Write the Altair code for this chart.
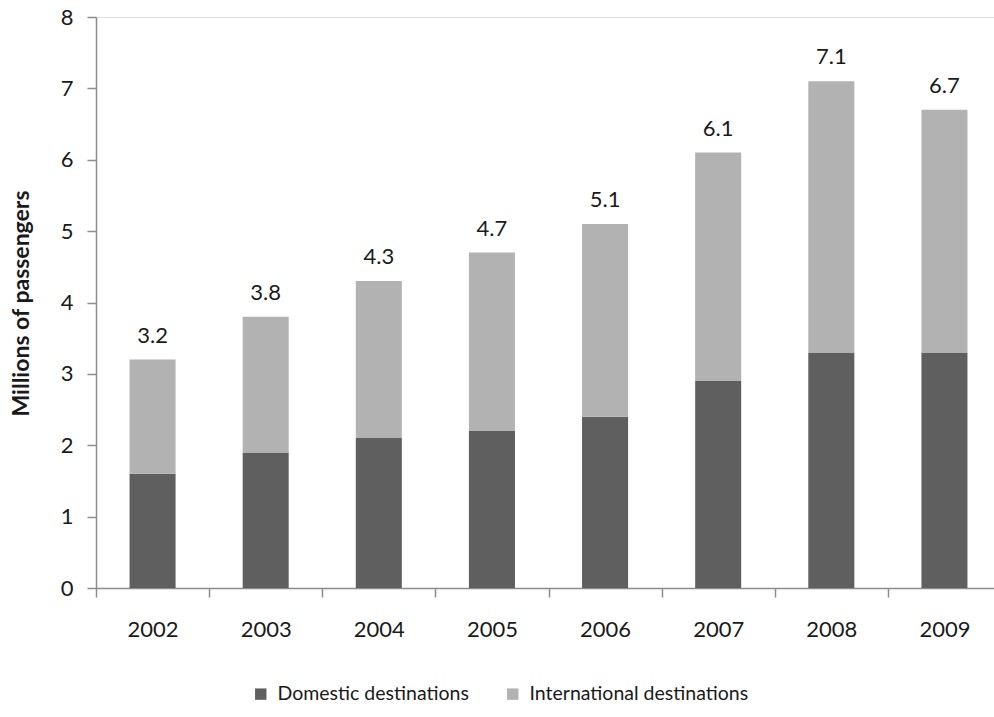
import altair as alt
import pandas as pd

years = ["2002", "2003", "2004", "2005", "2006", "2007", "2008", "2009"]
domestic = [1.6, 1.9, 2.1, 2.2, 2.4, 2.9, 3.3, 3.3]
totals = [3.2, 3.8, 4.3, 4.7, 5.1, 6.1, 7.1, 6.7]
international = [round(t - d, 1) for t, d in zip(totals, domestic)]

series = ["Domestic destinations", "International destinations"]
colors = ["#5f5f5f", "#b2b2b2"]

rows = []
for y, d, i in zip(years, domestic, international):
    rows.append({"year": y, "series": series[0], "value": d, "k": 0})
    rows.append({"year": y, "series": series[1], "value": i, "k": 1})
df = pd.DataFrame(rows)
tot = pd.DataFrame({"year": years, "total": totals})

FONT = "Lato"
INK = "#1a1a1a"
AXIS = "#8c8c8c"

# category bands run past the right edge of the canvas
x_scale = alt.Scale(range=[0, 905], paddingInner=0, paddingOuter=0)

x = alt.X(
    "year:N",
    title=None,
    scale=x_scale,
    axis=alt.Axis(
        tickBand="extent",
        labelAngle=0,
        labelPadding=22,
        tickSize=9,
        domainColor=AXIS,
        tickColor=AXIS,
        domainWidth=1.5,
        tickWidth=1.5,
        labelFont=FONT,
        labelFontSize=22,
        labelColor=INK,
    ),
)

bars = alt.Chart(df).mark_bar(width=alt.RelativeBandSize(0.407)).encode(
    x=x,
    y=alt.Y(
        "value:Q",
        stack="zero",
        title="Millions of passengers",
        scale=alt.Scale(domain=[0, 8], nice=False),
        axis=alt.Axis(
            values=list(range(0, 9)),
            format="d",
            grid=False,
            tickSize=9,
            labelPadding=14,
            domainColor=AXIS,
            tickColor=AXIS,
            domainWidth=1.5,
            tickWidth=1.5,
            labelFont=FONT,
            labelFontSize=22,
            labelColor=INK,
            titleFont=FONT,
            titleFontSize=23,
            titleFontWeight="bold",
            titleColor=INK,
            titleAngle=-90,
            titleAlign="center",
            titleBaseline="alphabetic",
            titleX=-68,
            titleY=286,
        ),
    ),
    color=alt.Color(
        "series:N",
        scale=alt.Scale(domain=series, range=colors),
        legend=alt.Legend(
            title=None,
            orient="none",
            direction="horizontal",
            legendX=155,
            legendY=667,
            symbolType="square",
            symbolSize=130,
            symbolStrokeWidth=0,
            labelFont=FONT,
            labelFontSize=19.5,
            labelColor=INK,
            labelLimit=400,
            columnPadding=34,
            labelOffset=7,
        ),
    ),
    order=alt.Order("k:Q", sort="ascending"),
)

labels = alt.Chart(tot).mark_text(
    baseline="bottom", dy=-12, font=FONT, fontSize=22, color=INK
).encode(
    x=alt.X("year:N", scale=x_scale),
    y=alt.Y("total:Q"),
    text=alt.Text("total:Q", format=".1f"),
)

chart = (
    alt.layer(bars, labels)
    .properties(
        width=898,
        height=571,
        autosize=alt.AutoSizeParams(type="none"),
        padding={"left": 96, "top": 17, "right": 0, "bottom": 129},
    )
    .configure_view(stroke=None)
    .configure(background="white")
)

chart.save("out.html", embed_options={"renderer": "svg", "actions": False})
